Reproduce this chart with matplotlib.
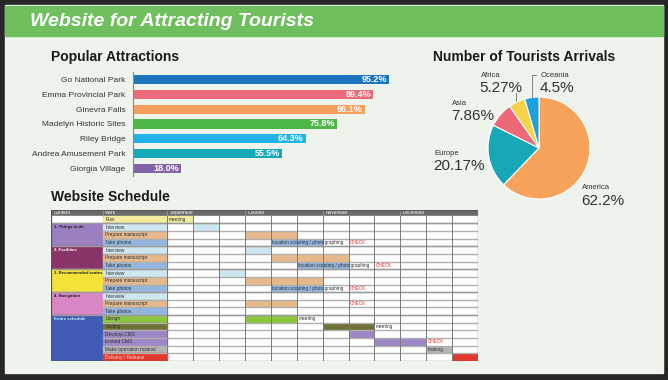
import numpy as np
import matplotlib.pyplot as plt
from matplotlib.patches import Rectangle

plt.rcParams['font.family'] = ['Liberation Sans', 'DejaVu Sans']

# ---- data ----
attractions = ['Go National Park', 'Emma Provincial Park', 'Ginevra Falls',
               'Madelyn Historic Sites', 'Riley Bridge', 'Andrea Amusement Park',
               'Giorgia Village']
popularity = [95.2, 89.4, 86.1, 75.8, 64.3, 55.5, 18.0]

regions = ['America', 'Europe', 'Asia', 'Africa', 'Oceania']
arrivals = [62.2, 20.17, 7.86, 5.27, 4.5]

months = ['September', 'October', 'November', 'December']
work_items = ['Plan',
              'Interview', 'Prepare manuscript', 'Take photos',
              'Interview', 'Prepare manuscript', 'Take photos',
              'Interview', 'Prepare manuscript', 'Take photos',
              'Interview', 'Prepare manuscript', 'Take photos',
              'Design', 'Coding', 'Develop CMS', 'Embed CMS',
              'Make operation manual', 'Delivery / Release']
groups = ['', '1. Things to do', '2. Facilities', '3. Recommended routes',
          '4. Navigation', 'Entire schedule']
group_start = [0, 1, 4, 7, 10, 13]
group_len = [1, 3, 3, 3, 3, 6]

# gantt tasks: row index, start week, length in weeks
task_rows = [0, 1, 2, 3, 4, 5, 6, 7, 8, 9, 11, 13, 14, 15, 16, 17, 18]
task_start = [0, 1, 3, 4, 3, 4, 5, 2, 3, 4, 3, 3, 6, 7, 8, 10, 11]
task_weeks = [1, 1, 2, 2, 1, 3, 2, 1, 3, 2, 2, 2, 2, 1, 2, 1, 1]

note_rows = [0, 3, 3, 6, 6, 9, 9, 11, 13, 14, 16, 17]
note_week = [0, 4, 7, 5, 8, 4, 7, 7, 5, 8, 10, 10]
note_text = ['meeting', 'location scouting / photographing', 'CHECK',
             'location scouting / photographing', 'CHECK',
             'location scouting / photographing', 'CHECK', 'CHECK',
             'meeting', 'meeting', 'CHECK', 'training']

# ---- styles ----
bar_colors = ['#1d76bd', '#ee6a7a', '#f79f5b', '#4db748', '#22b4e8', '#17a9b5', '#8462a8']
pie_colors = ['#f7a35b', '#17a7b7', '#ee6878', '#f8d24a', '#1b9fdf']
work_color = {'Plan': '#f2ec9c', 'Interview': '#cde6ef', 'Prepare manuscript': '#e5b98b',
              'Take photos': '#93b5df', 'Design': '#8cc540', 'Coding': '#6e7236',
              'Develop CMS': '#9c87c6', 'Embed CMS': '#9c87c6',
              'Make operation manual': '#b4b4b4', 'Delivery / Release': '#e2392e'}
group_colors = ['#ffffff', '#9a80c0', '#8a3469', '#f3e23a', '#d986c4', '#3f5bb3']
group_text = ['#333333', '#222222', '#ffffff', '#222222', '#222222', '#c4ecff']

W, H = 668, 380


def box(x0, y0, x1, y1):
    return [x0 / W, 1 - y1 / H, (x1 - x0) / W, (y1 - y0) / H]


fig = plt.figure(figsize=(W / 100, H / 100), dpi=100)
fig.patch.set_facecolor('#262626')
fig.patches.append(Rectangle((5 / W, 1 - 373 / H), 658 / W, 368 / H,
                             transform=fig.transFigure, color='#eef3ec', zorder=-2))
fig.patches.append(Rectangle((5 / W, 1 - 36 / H), 658 / W, 30 / H,
                             transform=fig.transFigure, color='#70bf5e', zorder=-1))
fig.text(30 / W, 1 - 21 / H, 'Website for Attracting Tourists', color='white',
         fontsize=14, fontweight='bold', fontstyle='italic', va='center')

# ---- Popular Attractions ----
fig.text(51 / W, 1 - 57 / H, 'Popular Attractions', fontsize=10, fontweight='bold',
         color='#1a1a1a', va='center')
ax = fig.add_axes(box(133, 72, 402, 176))
y = np.arange(len(attractions))
ax.barh(y, popularity, height=0.62, color=bar_colors)
ax.set_xlim(0, 100)
ax.set_ylim(len(attractions) - 0.5, -0.5)
ax.set_yticks(y, attractions, fontsize=6, color='#333333')
ax.set_xticks([])
ax.tick_params(left=False, pad=2)
for s in ['top', 'right', 'bottom']:
    ax.spines[s].set_visible(False)
ax.spines['left'].set_color('#888888')
ax.spines['left'].set_linewidth(0.8)
ax.patch.set_visible(False)
for i, v in enumerate(popularity):
    ax.text(v - 0.8, i, f'{v:.1f}%', ha='right', va='center', color='white',
            fontsize=6.5, fontweight='bold')

# ---- Number of Tourists Arrivals ----
fig.text(433 / W, 1 - 57 / H, 'Number of Tourists Arrivals', fontsize=10,
         fontweight='bold', color='#1a1a1a', va='center')
ax2 = fig.add_axes(box(488, 97, 590, 199))
ax2.pie(arrivals, colors=pie_colors, startangle=90, counterclock=False,
        wedgeprops=dict(edgecolor='white', linewidth=0.8))
ax2.set_xlim(-1, 1)
ax2.set_ylim(-1, 1)
label_pos = [(0.84, -0.78), (-2.06, -0.10), (-1.71, 0.88), (-1.14, 1.43), (0.04, 1.43)]
for name, val, (lx, ly) in zip(regions, arrivals, label_pos):
    ax2.text(lx, ly, name, fontsize=5.5, color='#333333', va='center', ha='left',
             clip_on=False)
    ax2.text(lx - 0.02, ly - 0.25, f'{val}%', fontsize=11, color='#333333',
             va='center', ha='left', clip_on=False)
ax2.plot([-0.45, -0.45], [1.07, 0.92], color='#555555', lw=0.5, clip_on=False)
ax2.plot([-0.13, -0.13, -0.05], [1.0, 1.43, 1.43], color='#555555', lw=0.5, clip_on=False)

# ---- Website Schedule ----
fig.text(51 / W, 1 - 197 / H, 'Website Schedule', fontsize=10, fontweight='bold',
         color='#1a1a1a', va='center')
ax3 = fig.add_axes(box(51, 210, 478, 361))
n = len(work_items)
ax3.set_xlim(-4.5, 12)
ax3.set_ylim(n, -0.75)
ax3.axis('off')
fs = 3.4

# header
ax3.add_patch(Rectangle((-4.5, -0.75), 16.5, 0.75, color='#6b6b6b'))
ax3.text(-4.4, -0.37, 'Content', color='white', fontsize=fs, va='center')
ax3.text(-2.4, -0.37, 'Work', color='white', fontsize=fs, va='center')
for k, m in enumerate(months):
    ax3.text(3 * k + 0.1, -0.37, m, color='white', fontsize=fs, va='center')
for xv in [-2.5, 0, 3, 6, 9]:
    ax3.plot([xv, xv], [-0.75, 0], color='#9a9a9a', lw=0.6)

# week area
ax3.add_patch(Rectangle((0, 0), 12, n, color='white'))

# content groups
for g, s, ln, c, tc in zip(groups, group_start, group_len, group_colors, group_text):
    ax3.add_patch(Rectangle((-4.5, s), 2.0, ln, color=c))
    ax3.text(-4.4, s + 0.45, g, color=tc, fontsize=3.1, fontweight='bold', va='center')

# work cells
for i, w in enumerate(work_items):
    ax3.add_patch(Rectangle((-2.5, i), 2.5, 1, color=work_color[w]))
    tc = '#ffd6d0' if w == 'Delivery / Release' else '#333333'
    ax3.text(-2.4, i + 0.5, w, color=tc, fontsize=fs, va='center')

# gantt bars
bar_c = [work_color[work_items[r]] for r in task_rows]
ax3.barh(task_rows, task_weeks, left=task_start, height=1, align='edge',
         color=bar_c, zorder=2)

# grid
for r in range(1, n):
    ax3.plot([-2.5, 12], [r, r], color='#b0b0b0', lw=1.0, zorder=3)
for s in group_start[1:]:
    ax3.plot([-4.5, 12], [s, s], color='#9a9a9a', lw=1.0, zorder=3)
for c in range(0, 12):
    ax3.plot([c, c], [0, n], color='#7a7a7a', lw=0.7, zorder=3)
ax3.plot([-4.5, 12, 12, -4.5, -4.5], [-0.75, -0.75, n, n, -0.75], color='#555555', lw=0.9, zorder=4)

# notes
for r, wk, t in zip(note_rows, note_week, note_text):
    col = '#e8352b' if t == 'CHECK' else '#333333'
    ax3.text(wk + 0.05, r + 0.5, t, color=col, fontsize=fs, va='center', zorder=5)

fig.savefig('out.png', dpi=100, facecolor=fig.get_facecolor())
